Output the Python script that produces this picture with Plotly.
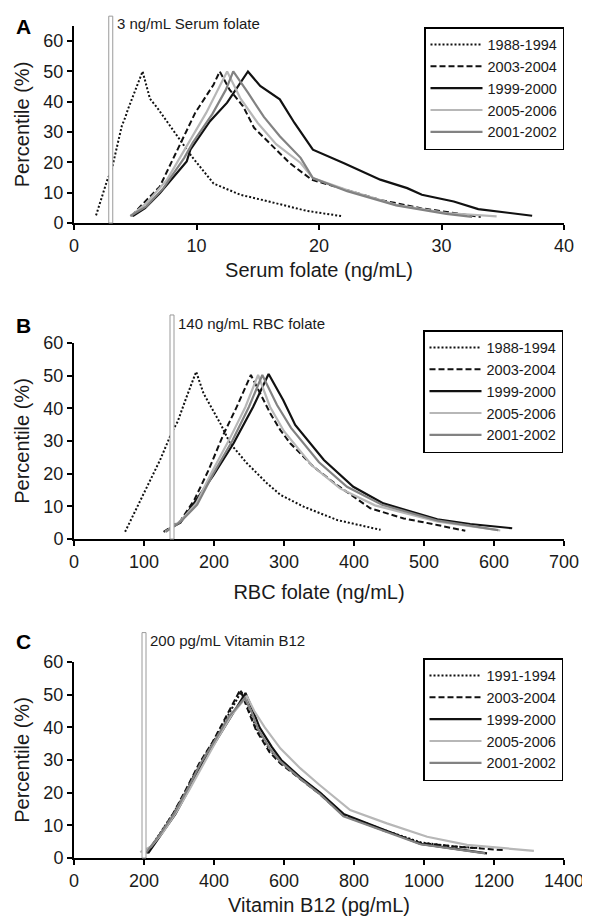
import plotly.graph_objects as go

# ---------------- data ----------------
series_names_AB = ["1988-1994", "2003-2004", "1999-2000", "2005-2006", "2001-2002"]
series_names_C = ["1991-1994", "2003-2004", "1999-2000", "2005-2006", "2001-2002"]

# Panel A: serum folate (ng/mL) vs folded percentile (%)
serum_1988_x = [1.8, 2.7, 3.1, 3.9, 4.2, 4.4, 5.6, 6.2, 6.8, 8.7, 9.6, 11.4, 13.6, 16.0, 19.0, 21.8]
serum_1988_y = [2.5, 14, 18, 32, 35, 37.5, 50, 41, 38, 27, 22, 13, 9.3, 7, 4, 2.3]
serum_2003_x = [4.7, 5.4, 7.0, 8.7, 9.9, 11.4, 11.9, 12.7, 13.8, 14.7, 17.6, 19.4, 21.7, 25.0, 28.3, 33.2]
serum_2003_y = [2.3, 5.4, 12, 26.4, 36.4, 45.7, 50, 44, 38.5, 31.4, 19.8, 14.3, 11.5, 7.6, 4.9, 2.0]
serum_1999_x = [4.8, 5.8, 7.0, 9.2, 9.5, 11.1, 12.5, 14.2, 15.2, 16.8, 18.0, 19.5, 22.0, 25.0, 27.2, 28.4, 31.0, 33.0, 37.4]
serum_1999_y = [2.3, 4.9, 9.8, 20.3, 24.2, 33.6, 39.7, 50, 45.2, 40.8, 33, 24.2, 19.8, 14.3, 11.5, 9.3, 7.1, 4.6, 2.4]
serum_2005_x = [4.6, 5.9, 7.6, 9.2, 10.8, 11.9, 12.5, 13.6, 15.0, 16.5, 18.5, 19.5, 22.3, 26.3, 30.4, 34.5]
serum_2005_y = [2.3, 6.5, 14.3, 25.3, 36.4, 45.2, 50, 41, 33, 26, 19.8, 14.8, 10.9, 6.0, 3.3, 2.2]
serum_2001_x = [4.6, 5.9, 7.3, 9.0, 9.7, 11.3, 12.4, 13.0, 14.2, 15.5, 16.8, 18.5, 19.5, 22.3, 26.3, 30.4, 32.5]
serum_2001_y = [2.3, 5.5, 11.5, 21.5, 26.5, 36, 44, 50, 43, 35, 28.6, 21.5, 14.8, 10.5, 5.8, 3.0, 2.0]

# Panel B: RBC folate (ng/mL)
rbc_1988_x = [73, 104, 123, 140, 148, 161, 174.5, 185, 209, 223, 247, 276, 295, 328, 376, 438]
rbc_1988_y = [2.2, 16, 24.2, 32.8, 35.9, 43.6, 51.2, 44.6, 35.4, 29.3, 23.2, 17, 13.5, 9.9, 5.8, 2.8]
rbc_2003_x = [128, 152, 172, 192, 213.5, 232.6, 252.7, 268.4, 280.3, 294.6, 308.9, 342.2, 375.7, 423.3, 471, 518.7, 559]
rbc_2003_y = [2.2, 5.5, 12, 21, 32, 40.5, 50.2, 43.6, 38.5, 33.4, 29.3, 22.1, 16.5, 9.4, 6.3, 4.3, 2.5]
rbc_1999_x = [133, 152, 168, 199, 228, 256, 278, 299, 316, 357, 399, 442, 519, 566, 626]
rbc_1999_y = [2.8, 5, 9.9, 19.5, 29.3, 40.5, 50.5, 42.5, 34.9, 24.2, 16, 10.9, 6.0, 4.6, 3.3]
rbc_2005_x = [130, 152, 175, 197, 222, 245, 263, 280, 300, 340, 380, 430, 520, 609]
rbc_2005_y = [2.2, 5.5, 11, 20.5, 30.5, 40.5, 50.2, 40.5, 33, 22.5, 15.5, 10.3, 5.3, 2.6]
rbc_2001_x = [131, 152, 176, 199, 226, 250, 269, 290, 310, 350, 390, 440, 520, 606]
rbc_2001_y = [2.2, 5.2, 10.5, 20, 30, 40.5, 50.2, 41, 34, 23.5, 16, 10.5, 5.6, 2.7]

# Panel C: vitamin B12 (pg/mL)
b12_1991_x = [208, 246, 284, 322, 360, 398, 440, 478, 500, 522, 560, 590, 646, 703, 770, 885, 990, 1075, 1161]
b12_1991_y = [1.5, 7.5, 13.7, 21, 29, 35.5, 43.5, 51, 45.5, 39.5, 33, 29.5, 24.5, 19.9, 13.2, 8.6, 4.8, 3.6, 3.0]
b12_2003_x = [210, 246, 284, 320, 358, 396, 438, 475, 498, 520, 558, 589, 646, 703, 770, 885, 990, 1100, 1228]
b12_2003_y = [1.5, 7.5, 13.7, 21, 29, 35.5, 43.8, 51.5, 45, 39.2, 32.5, 29, 24.2, 19.5, 13, 8.4, 4.6, 3.4, 2.4]
b12_1999_x = [212, 250, 290, 328, 366, 404, 446, 490, 510, 530, 565, 592, 646, 703, 770, 885, 990, 1180]
b12_1999_y = [1.5, 7.2, 13.5, 21, 29, 35.5, 43, 50.5, 45.5, 40, 34, 30, 24.8, 20, 13.5, 8.8, 4.3, 1.4]
b12_2005_x = [189, 220, 255, 292, 330, 368, 410, 452, 494, 515, 545, 590, 646, 700, 789, 894, 1009, 1123, 1314]
b12_2005_y = [1.8, 3.5, 8, 14, 21, 28.5, 36.5, 44, 49.5, 45, 40, 33.5, 27.5, 22.5, 14.7, 10.6, 6.5, 4.0, 2.2]
b12_2001_x = [205, 246, 286, 324, 362, 400, 442, 488, 506, 526, 560, 590, 646, 703, 770, 885, 990, 1175]
b12_2001_y = [1.5, 7.3, 13.6, 21, 29, 35.5, 43.2, 49, 45, 39.5, 33.5, 29.5, 24.3, 19.5, 12.8, 8.3, 4.2, 1.4]

# reference cut-offs
cutoff_values = [3, 140, 200]
cutoff_labels = ["3 ng/mL Serum folate", "140 ng/mL RBC folate", "200 pg/mL Vitamin B12"]
panel_letters = ["A", "B", "C"]
x_titles = ["Serum folate (ng/mL)", "RBC folate (ng/mL)", "Vitamin B12 (pg/mL)"]
x_ranges = [[0, 40], [0, 700], [0, 1400]]
x_dticks = [10, 100, 200]
y_ranges = [[0, 65], [0, 60], [0, 60]]

# ---------------- styling ----------------
# the page body has an 8px default margin, so the figure is 8px smaller
OFF = 8
W, H = 590 - OFF, 917 - OFF
FONT = "Liberation Sans, Arial, Helvetica, sans-serif"
TXT = "#1a1a1a"
styles = [
    dict(color="#111111", width=2, dash="2px,2px"),
    dict(color="#111111", width=2, dash="6px,3px"),
    dict(color="#111111", width=2.2, dash="solid"),
    dict(color="#b7b7b7", width=2.2, dash="solid"),
    dict(color="#828282", width=2.2, dash="solid"),
]

def px(x):
    return (x - OFF) / W

def py(y):
    return 1 - (y - OFF) / H

x_domain = [px(74), px(564)]
y_domains = [[py(223), py(26)], [py(539), py(343)], [py(858), py(662)]]
legend_pos = [(px(564), py(27)), (px(563), py(330)), (px(563), py(658))]
letter_pos = [(px(14), py(27)), (px(14), py(325.5)), (px(14), py(641.5))]
bar_tops = [1.05, 1.143, 1.15]
label_ys = [1.015, 1.10, 1.112]
x_standoffs = [8, 14, 8]

panels = [
    (series_names_AB, [(serum_1988_x, serum_1988_y), (serum_2003_x, serum_2003_y), (serum_1999_x, serum_1999_y),
                       (serum_2005_x, serum_2005_y), (serum_2001_x, serum_2001_y)]),
    (series_names_AB, [(rbc_1988_x, rbc_1988_y), (rbc_2003_x, rbc_2003_y), (rbc_1999_x, rbc_1999_y),
                       (rbc_2005_x, rbc_2005_y), (rbc_2001_x, rbc_2001_y)]),
    (series_names_C, [(b12_1991_x, b12_1991_y), (b12_2003_x, b12_2003_y), (b12_1999_x, b12_1999_y),
                      (b12_2005_x, b12_2005_y), (b12_2001_x, b12_2001_y)]),
]

fig = go.Figure()
layout = dict(
    width=W, height=H, autosize=False,
    margin=dict(l=0, r=0, t=0, b=0),
    paper_bgcolor="white", plot_bgcolor="white",
    font=dict(family=FONT, color=TXT),
    shapes=[], annotations=[],
)

for i, (names, data) in enumerate(panels):
    k = "" if i == 0 else str(i + 1)
    xa, ya = "x" + k, "y" + k
    leg = "legend" + k
    for name, (xs, ys), st in zip(names, data, styles):
        fig.add_trace(go.Scatter(
            x=xs, y=ys, mode="lines", name=name, xaxis=xa, yaxis=ya, legend=leg,
            line=dict(color=st["color"], width=st["width"], dash=st["dash"]),
            hoverinfo="skip",
        ))
    axis_common = dict(
        showline=True, linecolor="black", linewidth=2, mirror=False,
        ticks="outside", ticklen=5, tickwidth=1.5, tickcolor="black",
        showgrid=False, zeroline=False, automargin=False,
        tickfont=dict(size=18, color=TXT, family=FONT),
    )
    layout["xaxis" + k] = dict(
        axis_common, domain=x_domain, anchor=ya, range=x_ranges[i], dtick=x_dticks[i], tick0=0,
        title=dict(text=x_titles[i], font=dict(size=20, color=TXT, family=FONT), standoff=x_standoffs[i]),
    )
    layout["yaxis" + k] = dict(
        axis_common, domain=y_domains[i], anchor=xa, range=y_ranges[i], dtick=10, tick0=0,
        title=dict(text="Percentile (%)", font=dict(size=20, color=TXT, family=FONT), standoff=8),
    )
    lx, ly = legend_pos[i]
    layout[leg] = dict(
        x=lx, y=ly, xanchor="right", yanchor="top",
        bgcolor="white", bordercolor="black", borderwidth=1.5,
        font=dict(size=14.5, color=TXT, family=FONT), traceorder="normal",
        itemwidth=52,
    )
    # cut-off bar
    layout["shapes"].append(dict(
        type="rect", xref=xa, yref=ya + " domain", xsizemode="pixel", xanchor=cutoff_values[i],
        x0=-2, x1=2, y0=0, y1=bar_tops[i],
        fillcolor="white", line=dict(color="#9a9a9a", width=1), layer="above",
    ))
    layout["annotations"].append(dict(
        xref=xa, yref=ya + " domain", x=cutoff_values[i], y=label_ys[i], xshift=4,
        xanchor="left", yanchor="middle", showarrow=False, text=cutoff_labels[i],
        font=dict(size=15, color=TXT, family=FONT),
    ))
    lx2, ly2 = letter_pos[i]
    layout["annotations"].append(dict(
        xref="paper", yref="paper", x=lx2, y=ly2, xanchor="left", yanchor="middle",
        showarrow=False, text="<b>" + panel_letters[i] + "</b>",
        font=dict(size=21, color="black", family=FONT),
    ))

fig.update_layout(**layout)
fig.write_html("out.html")
